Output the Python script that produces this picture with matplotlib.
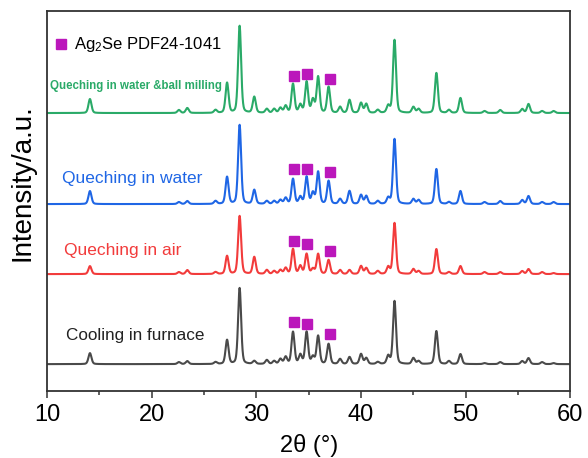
import numpy as np
import matplotlib
matplotlib.use('Agg')
import matplotlib.pyplot as plt

plt.rcParams['font.family'] = ['Liberation Sans', 'DejaVu Sans']
plt.rcParams['mathtext.fontset'] = 'custom'
plt.rcParams['mathtext.rm'] = 'Liberation Sans'
plt.rcParams['mathtext.it'] = 'Liberation Sans'

# peak positions (2theta, deg) shared by all patterns
pos = [14.1, 22.6, 23.4, 26.1, 27.2, 28.4, 29.8, 31.0, 31.7, 32.3, 32.8, 33.5, 34.2,
       34.8, 35.4, 35.9, 36.9, 38.0, 38.9, 40.0, 40.5, 41.6, 42.6, 43.2, 45.0, 45.5,
       47.2, 48.4, 49.5, 51.8, 53.3, 55.4, 56.0, 57.3, 58.4]

# peak heights (arb. units)
h_furnace = [11, 2, 3, 2, 24, 76, 3, 4, 3, 5, 7, 32, 9, 32, 7, 28, 20, 5, 7, 10, 6, 2,
             8, 63, 6, 3, 33, 3, 10, 1, 2, 3, 6, 2, 1]
h_air = [8, 2, 4, 2, 18, 58, 17, 4, 3, 4, 6, 25, 8, 20, 5, 20, 14, 4, 4, 8, 6, 3,
         7, 51, 5, 3, 25, 2, 8, 2, 2, 3, 5, 2, 1]
h_water = [13, 2, 3, 3, 27, 79, 14, 3, 3, 4, 6, 25, 7, 27, 11, 32, 23, 5, 13, 9, 8, 3,
           6, 65, 5, 4, 35, 2, 13, 2, 3, 4, 8, 2, 2]
h_ball = [14, 3, 5, 3, 30, 87, 16, 4, 4, 5, 7, 29, 8, 31, 13, 36, 26, 6, 13, 10, 9, 3,
          7, 73, 6, 4, 40, 3, 15, 2, 3, 4, 9, 2, 2]

labels = ['Cooling in furnace', 'Queching in air', 'Queching in water',
          'Queching in water &ball milling']
colors = ['#4a4a4a', '#f23b3b', '#1f66e5', '#2aaa68']
offsets = [27, 117, 187, 278]
heights = [h_furnace, h_air, h_water, h_ball]

# Ag2Se marker positions (deg) and heights per curve
sq_x = [33.55, 34.85, 37.05]
sq_y = [[69, 67, 57], [150, 147, 140], [222, 222, 219], [315, 317, 312]]

x = np.linspace(10, 60, 3001)
w = 0.34


def profile(hs):
    y = np.zeros_like(x)
    for p, h in zip(pos, hs):
        g = np.exp(-4*np.log(2)*((x-p)/w)**2)
        l = 1/(1+4*((x-p)/w)**2)
        y += h*(0.7*g + 0.3*l)
    return y


fig = plt.figure(figsize=(5.88, 4.58), dpi=100)
ax = fig.add_axes([0.080, 0.146, 0.890, 0.830])

for hs, off, c in zip(heights, offsets, colors):
    ax.plot(x, profile(hs) + off, color=c, lw=1.5)

for ys in sq_y:
    ax.plot(sq_x, ys, 's', color='#bb17bb', ms=7.5, mec='#bb17bb', ls='none')

ax.plot([11.3], [347], 's', color='#bb17bb', ms=7.5, ls='none')
ax.text(12.6, 347, 'Ag$_2$Se PDF24-1041', fontsize=12, va='center', ha='left')

ax.text(10.3, 305, labels[3], color=colors[3], fontsize=8.3, fontweight='bold',
        va='center', ha='left')
ax.text(11.4, 213, labels[2], color=colors[2], fontsize=12.5, va='center', ha='left')
ax.text(11.6, 141, labels[1], color=colors[1], fontsize=12.5, va='center', ha='left')
ax.text(11.8, 56, labels[0], color='#222222', fontsize=12.3, va='center', ha='left')

ax.set_xlim(10, 60)
ax.set_ylim(0, 380)
ax.set_yticks([])
ax.set_xticks([10, 20, 30, 40, 50, 60])
ax.set_xticks([15, 25, 35, 45, 55], minor=True)
ax.tick_params(axis='x', which='major', direction='out', length=5, width=1.1,
               labelsize=17, pad=4, colors='#333333', labelcolor='black')
ax.tick_params(axis='x', which='minor', direction='out', length=3, width=1.1,
               colors='#333333')
for s in ax.spines.values():
    s.set_linewidth(1.3)
    s.set_color('#333333')

ax.set_xlabel('2θ (°)', fontsize=17, labelpad=6)
ax.text(-0.046, 0.549, 'Intensity/a.u.', transform=ax.transAxes, rotation=90,
        fontsize=20, ha='center', va='center')

fig.savefig('out.png', dpi=100)
